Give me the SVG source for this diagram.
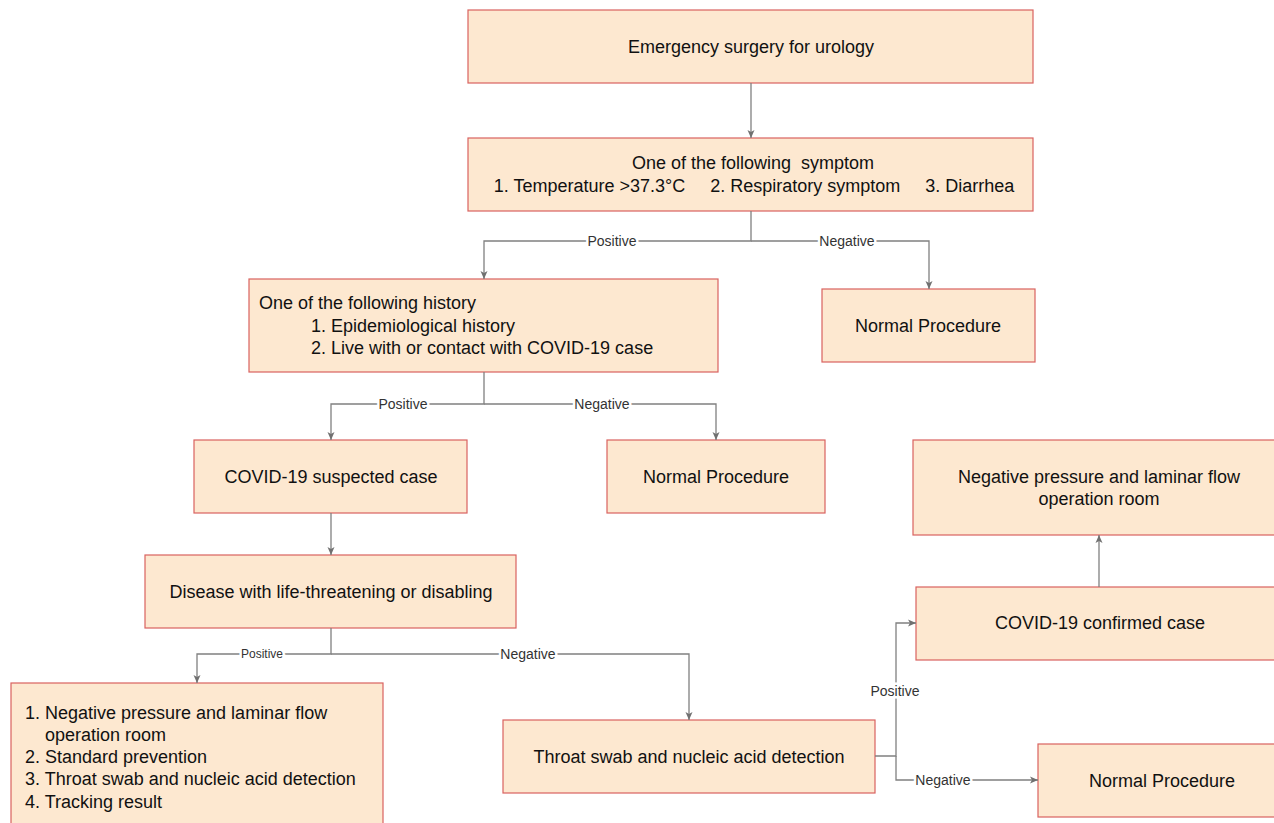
<svg xmlns="http://www.w3.org/2000/svg" width="1274" height="823" viewBox="0 0 1274 823">
<style>
.box{fill:#FDE8D0;stroke:#D9625F;stroke-width:1.2}
.shadow{fill:#E6E6E6}
.t{font-family:"Liberation Sans",Arial,sans-serif;font-size:18px;fill:#111}
.c{text-anchor:middle;dominant-baseline:central}
.l{dominant-baseline:central}
.edge{fill:none;stroke:#808080;stroke-width:1.3}
.lab{font-family:"Liberation Sans",Arial,sans-serif;font-size:14px;fill:#333;text-anchor:middle;dominant-baseline:central;stroke:#fff;stroke-width:5;paint-order:stroke}
</style>
<defs>
<marker id="arr" viewBox="0 0 8 8" refX="8" refY="4" markerWidth="8" markerHeight="8" markerUnits="userSpaceOnUse" orient="auto">
<path d="M0,0.5 L8,4 L0,7.5 L2,4 z" fill="#707070"/>
</marker>
</defs>
<rect width="1274" height="823" fill="#fff"/>
<g id="n1"><rect class="box" x="468" y="10" width="565" height="73"/><text class="t c" x="751" y="47">Emergency surgery for urology</text></g>
<g id="n2"><rect class="box" x="468" y="138" width="565" height="73"/><text class="t c" x="753" y="163" style="white-space:pre">One of the following  symptom</text><text class="t c" x="754" y="186" style="white-space:pre">1. Temperature &gt;37.3°C     2. Respiratory symptom     3. Diarrhea</text></g>
<g id="n3"><rect class="box" x="249" y="279" width="469" height="93"/><text class="t l" x="259" y="303">One of the following history</text><text class="t l" x="311" y="326">1. Epidemiological history</text><text class="t l" x="311" y="348">2. Live with or contact with COVID-19 case</text></g>
<g id="n4"><rect class="box" x="822" y="289" width="213" height="73"/><text class="t c" x="928" y="326">Normal Procedure</text></g>
<g id="n5"><rect class="box" x="194" y="440" width="273" height="73"/><text class="t c" x="331" y="477">COVID-19 suspected case</text></g>
<g id="n6"><rect class="box" x="607" y="440" width="218" height="73"/><text class="t c" x="716" y="477">Normal Procedure</text></g>
<g id="n7"><rect class="box" x="145" y="555" width="371" height="73"/><text class="t c" x="331" y="592">Disease with life-threatening or disabling</text></g>
<g id="n8"><rect class="box" x="11" y="683" width="372" height="150"/><text class="t l" x="25" y="713">1. Negative pressure and laminar flow</text><text class="t l" x="45" y="735">operation room</text><text class="t l" x="25" y="757">2. Standard prevention</text><text class="t l" x="25" y="779">3. Throat swab and nucleic acid detection</text><text class="t l" x="25" y="802">4. Tracking result</text></g>
<g id="n9"><rect class="box" x="503" y="720" width="372" height="73"/><text class="t c" x="689" y="757">Throat swab and nucleic acid detection</text></g>
<g id="n10"><rect class="box" x="913" y="440" width="372" height="95"/><text class="t c" x="1099" y="477">Negative pressure and laminar flow</text><text class="t c" x="1099" y="499">operation room</text></g>
<g id="n11"><rect class="box" x="916" y="587" width="370" height="73"/><text class="t c" x="1100" y="623">COVID-19 confirmed case</text></g>
<g id="n12"><rect class="box" x="1038" y="744" width="248" height="73"/><text class="t c" x="1162" y="781">Normal Procedure</text></g>
<g id="connectors">
<path class="edge" d="M751,83 V138" marker-end="url(#arr)"/>
<path class="edge" d="M751,211 V241 H484 V279" marker-end="url(#arr)"/>
<path class="edge" d="M751,241 H929 V289" marker-end="url(#arr)"/>
<path class="edge" d="M484,372 V404 H331 V440" marker-end="url(#arr)"/>
<path class="edge" d="M484,404 H716 V440" marker-end="url(#arr)"/>
<path class="edge" d="M331,513 V555" marker-end="url(#arr)"/>
<path class="edge" d="M331,628 V654 H197 V683" marker-end="url(#arr)"/>
<path class="edge" d="M331,654 H689 V720" marker-end="url(#arr)"/>
<path class="edge" d="M875,756 H896 V623 H916" marker-end="url(#arr)"/>
<path class="edge" d="M896,756 V780 H1038" marker-end="url(#arr)"/>
<path class="edge" d="M1099,587 V535" marker-end="url(#arr)"/>
<text class="lab" x="612" y="241">Positive</text>
<text class="lab" x="847" y="241">Negative</text>
<text class="lab" x="403" y="404">Positive</text>
<text class="lab" x="602" y="404">Negative</text>
<text class="lab" x="262" y="654" style="font-size:12px">Positive</text>
<text class="lab" x="528" y="654">Negative</text>
<text class="lab" x="895" y="691">Positive</text>
<text class="lab" x="943" y="780">Negative</text>
</g>
</svg>
